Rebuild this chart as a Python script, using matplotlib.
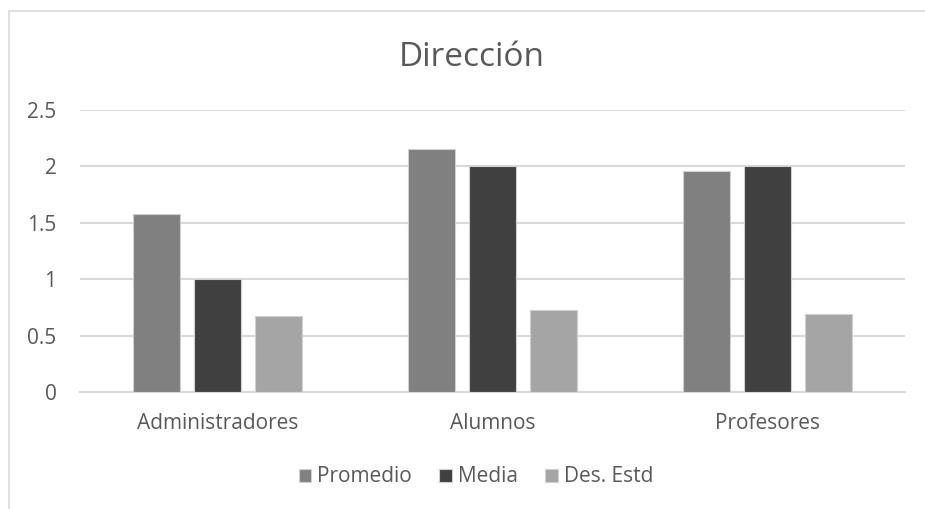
import numpy as np
import matplotlib.pyplot as plt
from matplotlib.patches import Rectangle

plt.rcParams['font.family'] = ['Open Sans', 'DejaVu Sans']

# data
categorias = ['Administradores', 'Alumnos', 'Profesores']
series = ['Promedio', 'Media', 'Des. Estd']
promedio = [1.58, 2.15, 1.96]
media = [1.0, 2.0, 2.0]
des_estd = [0.67, 0.73, 0.69]
colores = ['#808080', '#404040', '#a5a5a5']
yticks = [0, 0.5, 1, 1.5, 2, 2.5]

W, H = 925, 509
fig = plt.figure(figsize=(W / 100, H / 100), dpi=100)

# chart frame (only top and left edges visible in the crop)
fig.patches.append(Rectangle((9 / W, -0.1), 1.2, 1.1 - 11 / H, transform=fig.transFigure,
                             fill=False, edgecolor='#d9d9d9', linewidth=1.2))

ax = fig.add_axes([80 / W, 1 - 392 / H, 825 / W, 282 / H])
x = np.arange(len(categorias))
ancho = 0.171
paso = 0.222
for i, (vals, nombre) in enumerate(zip([promedio, media, des_estd], series)):
    ax.bar(x + (i - 1) * paso, vals, width=ancho, color=colores[i],
           edgecolor='#d0d0d0', linewidth=0.8, label=nombre, zorder=3)

ax.set_xlim(-0.5, 2.5)
ax.set_ylim(0, 2.5)
ax.set_yticks(yticks)
ax.set_yticklabels(['0', '0.5', '1', '1.5', '2', '2.5'])
ax.set_xticks(x)
ax.set_xticklabels(categorias)
ax.grid(axis='y', color='#d9d9d9', linewidth=1.5, zorder=0)
for s in ['top', 'right', 'left']:
    ax.spines[s].set_visible(False)
ax.spines['bottom'].set_color('#d9d9d9')
ax.spines['bottom'].set_linewidth(1.5)
ax.tick_params(axis='both', length=0, labelsize=15, colors='#595959')
ax.tick_params(axis='y', pad=17)
ax.tick_params(axis='x', pad=15)

fig.text(472 / W, 1 - 57 / H, 'Dirección', ha='center', va='center',
         fontsize=24, color='#595959')

leg = ax.legend(loc='center', bbox_to_anchor=(476 / W, 1 - 477 / H), bbox_transform=fig.transFigure,
                ncol=3, frameon=False, fontsize=15, handlelength=0.6, handleheight=0.6,
                handletextpad=0.3, columnspacing=1.3)
for t in leg.get_texts():
    t.set_color('#595959')

fig.savefig('out.png', dpi=100)
